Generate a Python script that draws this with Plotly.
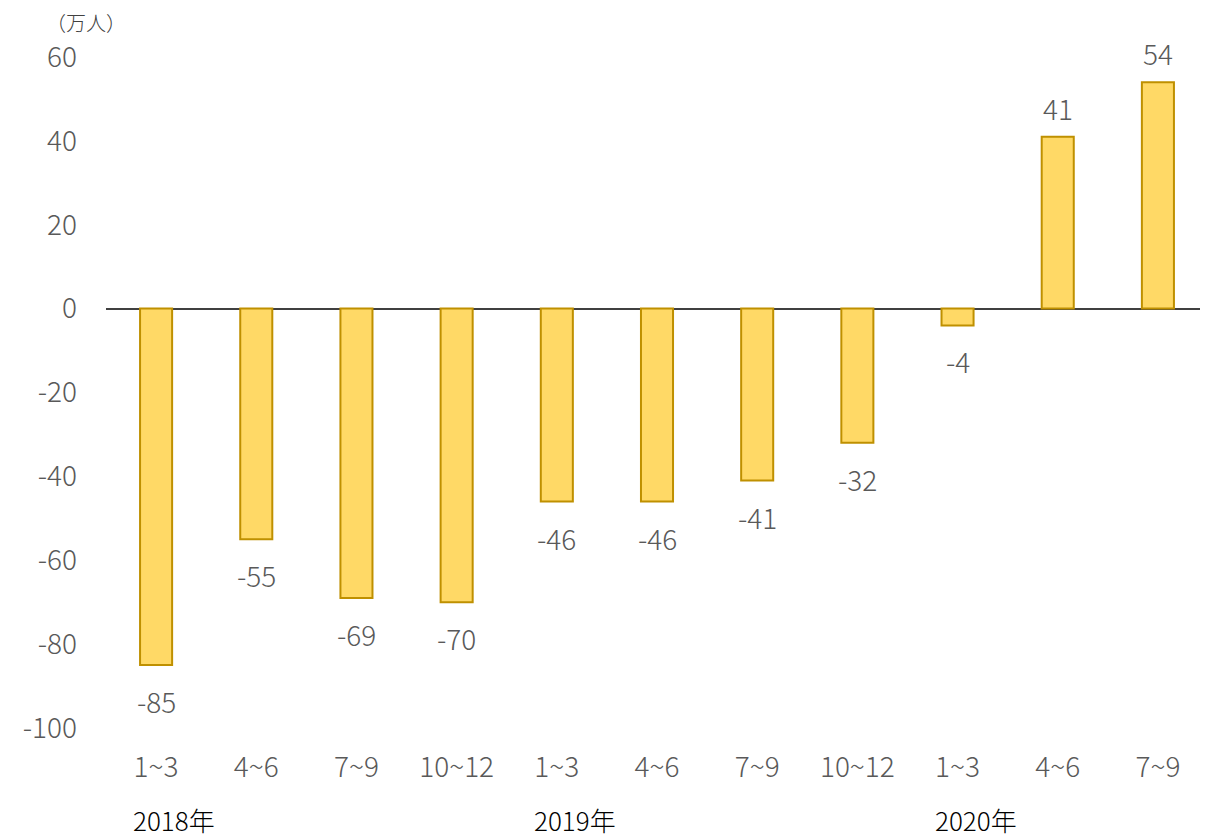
import plotly.graph_objects as go

quarters = ["1~3", "4~6", "7~9", "10~12", "1~3", "4~6", "7~9", "10~12", "1~3", "4~6", "7~9"]
values = [-85, -55, -69, -70, -46, -46, -41, -32, -4, 41, 54]
years = ["2018年", "2019年", "2020年"]
year_start = [0, 4, 8]
y_ticks = [60, 40, 20, 0, -20, -40, -60, -80, -100]

FONT = "Noto Sans CJK JP"
GRAY = "#595959"

def plot():
    x = list(range(len(values)))
    fig = go.Figure()

    fig.add_trace(go.Bar(
        x=x, y=values,
        marker=dict(color="#FFD966", line=dict(color="#BF9000", width=2)),
        width=0.32,
    ))

    # data labels, pushed a bit further from the bar ends
    for i, v in zip(x, values):
        fig.add_annotation(x=i, y=v, xref="x", yref="y", text=str(v),
                           showarrow=False, yanchor="middle",
                           yshift=-36 if v < 0 else 29,
                           font=dict(family=FONT, size=28, color=GRAY, weight=300))

    for name, i in zip(years, year_start):
        fig.add_annotation(x=i - 0.25, y=0, xref="x", yref="paper",
                           yshift=-91, text=name, showarrow=False,
                           xanchor="left", yanchor="middle",
                           font=dict(family=FONT, size=26, color="#000000", weight=300))

    fig.add_annotation(x=0, y=1.0, xref="paper", yref="paper",
                       text="（万人）", showarrow=False, xshift=-62,
                       xanchor="left", yanchor="middle", yshift=35,
                       font=dict(family=FONT, size=20, color="#404040", weight=300))

    tick_font = dict(family=FONT, size=28, color=GRAY, weight=300)
    fig.update_layout(
        width=1200, height=829,
        margin=dict(l=98, r=0, t=49, b=109),
        plot_bgcolor="white", paper_bgcolor="white",
        showlegend=False,
        font=dict(family=FONT),
        xaxis=dict(tickvals=x, ticktext=quarters, showgrid=False,
                   range=[-0.5, len(values) - 0.5],
                   showline=False, zeroline=False, ticks="",
                   tickfont=tick_font, ticklabelstandoff=20),
        yaxis=dict(range=[-100, 60], tickvals=y_ticks,
                   ticktext=[str(v) for v in y_ticks], showgrid=False,
                   zeroline=True, zerolinecolor="#404040", zerolinewidth=1.5,
                   showline=False, ticks="",
                   tickfont=tick_font, ticklabelstandoff=28),
    )
    return fig

fig = plot()
fig.write_html("out.html")
